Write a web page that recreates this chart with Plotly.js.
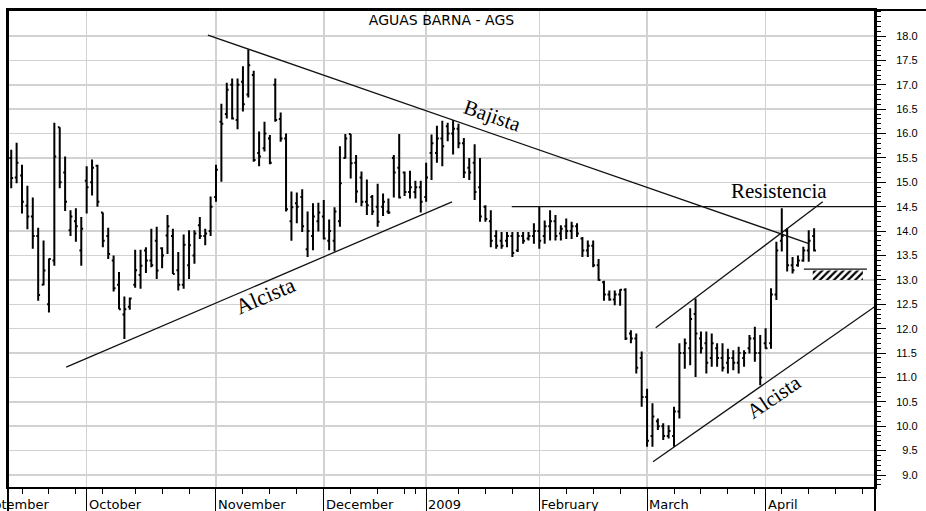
<!DOCTYPE html>
<html><head><meta charset="utf-8">
<script src="https://cdn.plot.ly/plotly-3.0.1.min.js"></script>
<style>html,body{margin:0;padding:0;background:#fff}#chart{width:926px;height:511px}</style>
</head><body><div id="chart"></div>
<script>
// Daily OHLC bars (trading-day order, Sept 2008 - Apr 2009)
const openP = [15.5,15.1,15.14,14.52,14.3,13.9,12.9,12.5,13.4,16.13,
15.2,14.02,14.2,13.6,15.03,15.0,15.34,14.38,13.9,13.4,
12.9,12.29,12.45,12.9,13.1,13.6,13.4,13.8,13.65,13.91,
13.9,13.2,12.9,13.3,13.5,14.12,13.9,14.0,14.7,16.24,
16.4,17.0,16.28,17.06,16.8,17.2,15.6,15.7,15.9,17.0,
16.3,15.9,14.2,14.57,14.7,13.63,13.9,14.2,14.3,13.8,
13.8,14.2,15.5,15.99,15.4,15.1,14.6,14.7,14.5,14.5,
14.4,15.5,15.3,15.2,14.8,14.8,14.9,14.7,15.6,15.6,
15.9,16.15,16.0,16.1,15.8,15.3,15.4,14.9,14.5,14.2,
13.9,13.8,13.8,13.9,13.6,13.9,13.85,13.9,14.0,13.9,
14.1,14.2,13.95,14.1,14.0,14.1,13.85,13.6,13.7,13.3,
12.95,12.7,12.6,12.7,12.8,11.9,11.8,11.4,10.6,9.8,
10.1,10.0,9.8,9.8,10.3,11.5,11.6,12.3,11.8,11.7,
11.4,11.6,11.4,11.3,11.4,11.3,11.4,11.6,11.8,11.5,
11.7,11.7,12.7,13.8,14.0,13.3,13.3,13.4,13.6,13.9];
const highP = [15.67,15.81,15.36,14.93,14.69,14.07,13.81,13.44,16.22,16.13,
15.53,14.43,14.47,14.29,15.33,15.47,15.36,14.38,14.07,13.50,
13.16,12.66,12.64,13.62,13.62,13.67,14.05,14.09,13.67,14.33,
14.05,13.57,13.93,14.02,14.02,14.29,14.05,14.71,15.36,16.61,
17.04,17.13,17.13,17.38,17.73,17.29,16.04,16.24,15.97,17.13,
16.43,16.0,14.81,14.79,14.86,14.40,14.57,14.58,14.64,14.24,
14.49,15.74,15.99,15.99,15.56,15.22,15.06,14.74,14.97,14.77,
14.67,15.56,15.99,15.22,15.24,15.03,15.03,15.40,15.98,16.16,
16.26,16.22,16.28,16.20,15.91,15.50,15.78,15.50,14.53,14.43,
14.02,13.98,13.98,13.98,13.98,13.98,13.98,14.16,14.50,14.22,
14.43,14.33,14.12,14.26,14.19,14.16,13.88,13.81,13.81,13.43,
12.98,12.78,12.78,12.81,12.83,11.97,11.90,11.53,10.77,10.47,
10.16,10.06,10.02,10.40,11.70,11.80,12.42,12.62,11.94,11.94,
11.90,11.70,11.70,11.59,11.56,11.63,11.56,11.87,12.04,11.87,
12.01,12.83,13.78,14.47,14.06,13.47,13.50,13.68,14.02,14.06];
const lowP = [14.88,14.98,14.36,14.04,13.64,12.57,12.89,12.33,13.29,14.88,
14.41,13.90,13.78,13.29,14.36,14.73,14.50,13.67,13.43,12.76,
12.40,11.79,12.39,12.84,12.82,13.14,13.26,13.02,13.24,13.53,
13.12,12.78,12.82,13.02,13.33,13.84,13.71,13.90,14.60,15.01,
16.31,16.29,16.09,16.45,16.74,15.42,15.33,15.63,15.37,16.24,
15.83,14.40,13.80,14.16,13.98,13.47,13.61,13.99,13.83,13.61,
13.58,14.09,15.49,15.08,14.58,14.51,14.33,14.33,14.09,14.31,
14.35,14.69,14.67,14.72,14.67,14.67,14.38,14.60,15.05,15.40,
15.33,15.84,15.57,15.70,15.09,15.05,14.64,14.19,14.19,13.67,
13.64,13.64,13.67,13.47,13.57,13.74,13.81,13.74,13.64,13.74,
13.81,13.81,13.81,13.84,13.84,13.88,13.47,13.47,13.26,12.98,
12.57,12.57,12.48,12.47,11.77,11.70,11.08,10.40,9.58,9.58,
9.92,9.72,9.75,9.58,10.16,11.18,11.25,11.01,11.49,11.08,
11.22,11.22,11.12,11.08,11.15,11.08,11.22,11.49,11.32,10.84,
11.59,11.59,12.59,13.58,13.17,13.13,13.27,13.37,13.37,13.58];
const closeP = [15.09,15.40,14.6,14.3,13.9,12.69,13.19,13.43,15.53,15.0,
14.6,14.3,14.1,14.05,14.9,15.3,14.6,13.8,13.53,12.83,
12.40,12.4,12.62,13.2,13.29,13.4,13.3,13.19,13.5,14.1,
13.12,12.9,13.72,13.71,13.95,13.9,13.95,14.5,15.26,16.2,
16.9,16.31,17.0,16.6,17.4,15.46,15.53,16.0,15.4,16.28,
15.9,14.45,14.49,14.5,14.1,14.0,14.3,14.38,13.85,14.0,
14.4,14.98,15.9,15.39,14.81,14.6,14.53,14.4,14.19,14.6,
14.38,15.2,14.69,14.8,14.9,14.9,14.6,15.1,15.8,15.9,
15.74,16.0,16.1,15.8,15.2,15.2,14.8,14.3,14.25,13.8,
13.7,13.7,13.9,13.55,13.9,13.8,13.9,14.0,13.8,14.1,
14.2,13.9,14.05,14.0,14.1,13.95,13.6,13.7,13.3,13.0,
12.7,12.6,12.7,12.8,11.8,11.8,11.2,10.6,9.7,10.2,
10.0,9.8,9.9,10.3,11.5,11.7,12.2,11.9,11.6,11.3,
11.7,11.4,11.2,11.4,11.3,11.5,11.5,11.8,11.5,11.0,
11.6,12.7,13.6,13.9,13.3,13.2,13.4,13.6,13.8,13.6];

// Calendar: first trading day of each month (bar index) and labels
const monthStarts = [14, 38, 58, 77, 98, 118, 140];
const monthLabels = ['October', 'November', 'December', '2009', 'February', 'March', 'April'];
const firstMonthLabel = 'September';
const weekTicks = [2, 7, 12, 17, 23, 28, 33, 43, 48, 53, 63, 68, 73, 75, 83, 88, 93, 103, 108, 113, 123, 128, 133, 138, 143, 148, 153, 158];

// Price axis ticks
const yTickVals = [9.0, 9.5, 10.0, 10.5, 11.0, 11.5, 12.0, 12.5, 13.0, 13.5, 14.0, 14.5, 15.0, 15.5, 16.0, 16.5, 17.0, 17.5, 18.0];
const yTickText = ['\u20079.0', '\u20079.5', '10.0', '10.5', '11.0', '11.5', '12.0', '12.5', '13.0', '13.5', '14.0', '14.5', '15.0', '15.5', '16.0', '16.5', '17.0', '17.5', '18.0'];

// Hand-drawn analysis lines (bar index, price)
const bajistaX = [36.5, 147.9], bajistaY = [18.02, 13.75];
const alcistaX = [10.2, 81.8], alcistaY = [11.21, 14.60];
const channelUpX = [119.6, 150.6], channelUpY = [12.02, 14.60];
const channelLowX = [119.1, 161.0], channelLowY = [9.27, 12.51];
const resistX = [92.9, 161.0], resistY = [14.5, 14.5];
const supportX = [147.1, 158.8], supportY = [13.22, 13.22];
const supportZoneX = [153.4], supportZoneW = [9.3], supportZoneBase = [13.0], supportZoneH = [0.19];

const barIndex = openP.map((_, i) => i);
const lineStyle = {color: '#111', width: 1.3};
function seg(x, y) {
  return {type: 'scatter', mode: 'lines', x: x, y: y, line: lineStyle, hoverinfo: 'skip', showlegend: false};
}

const traces = [
  {type: 'bar', x: supportZoneX, y: supportZoneH, base: supportZoneBase, width: supportZoneW,
   marker: {color: '#fff', line: {width: 0}, pattern: {shape: '/', size: 5, solidity: 0.45, fgcolor: '#000', bgcolor: '#fff'}},
   hoverinfo: 'skip', showlegend: false},
  {type: 'ohlc', x: barIndex, open: openP, high: highP, low: lowP, close: closeP,
   increasing: {line: {color: '#000', width: 2}}, decreasing: {line: {color: '#000', width: 2}},
   tickwidth: 0.35, hoverinfo: 'skip', showlegend: false},
  seg(bajistaX, bajistaY), seg(alcistaX, alcistaY), seg(channelUpX, channelUpY),
  seg(channelLowX, channelLowY), seg(resistX, resistY), seg(supportX, supportY)
];

const serif = {family: 'Liberation Serif, Times New Roman, serif', size: 20, color: '#000'};
const annotations = [
  {x: 89.4, y: 16.36, text: 'Bajista', textangle: 19, font: Object.assign({}, serif, {size: 21})},
  {x: 47.2, y: 12.68, text: 'Alcista', textangle: -23, font: Object.assign({}, serif, {size: 22})},
  {x: 142.4, y: 14.82, text: 'Resistencia', textangle: 0, font: Object.assign({}, serif, {size: 21})},
  {x: 141.5, y: 10.60, text: 'Alcista', textangle: -34, font: Object.assign({}, serif, {size: 21})}
].map(a => Object.assign({xref: 'x', yref: 'y', showarrow: false, xanchor: 'center', yanchor: 'middle'}, a));

const labelFont = {family: 'DejaVu Sans, sans-serif', size: 13, color: '#000'};
monthStarts.forEach((m, k) => {
  annotations.push({x: m, y: 0, xref: 'x', yref: 'paper', text: monthLabels[k], showarrow: false,
    xanchor: 'left', yanchor: 'middle', xshift: 0, yshift: -17, font: labelFont});
});
annotations.push({x: monthStarts[0], y: 0, xref: 'x', yref: 'paper', text: firstMonthLabel, showarrow: false,
  xanchor: 'right', yanchor: 'middle', xshift: -35, yshift: -17, font: labelFont});

const frame = {color: '#000', width: 2};
const layout = {
  width: 926, height: 511,
  margin: {l: 8, r: 51, t: 10, b: 24, pad: 0},
  paper_bgcolor: '#fff', plot_bgcolor: '#fff',
  showlegend: false,
  title: {text: 'AGUAS BARNA - AGS', font: {family: 'DejaVu Sans, sans-serif', size: 14, color: '#000'},
          x: 0.5, xref: 'paper', xanchor: 'center', y: 1 - 20 / 511, yref: 'container', yanchor: 'middle'},
  xaxis: {type: 'linear', range: [-0.6, 160.3], rangeslider: {visible: false},
          tickmode: 'array', tickvals: monthStarts, showticklabels: false,
          ticks: 'outside', ticklen: 25, tickwidth: 1, tickcolor: '#000',
          showgrid: true, gridcolor: '#d2d2d2', gridwidth: 1.5,
          showline: true, linecolor: '#000', linewidth: 2, mirror: true, zeroline: false,
          minor: {tickmode: 'array', tickvals: weekTicks, ticks: 'outside', ticklen: 5, tickwidth: 1, tickcolor: '#000', showgrid: false}},
  yaxis: {side: 'right', range: [8.754, 18.533], tickmode: 'array', tickvals: yTickVals, ticktext: yTickText,
          ticks: 'outside', ticklen: 9, tickwidth: 1, tickcolor: '#000', ticklabelstandoff: 8,
          tickfont: {family: 'Liberation Sans, Arial, sans-serif', size: 11, color: '#000'},
          showgrid: true, gridcolor: '#d2d2d2', gridwidth: 1.5,
          showline: true, linecolor: '#000', linewidth: 2, mirror: true, zeroline: false,
          minor: {dtick: 0.1, tick0: 0, ticks: 'outside', ticklen: 4, tickwidth: 1, tickcolor: '#000', showgrid: false}},
  shapes: [
    {type: 'line', xref: 'paper', yref: 'paper', x0: 0, x1: 0, y0: -0.06, y1: 1, line: frame},
    {type: 'line', xref: 'paper', yref: 'paper', x0: 1, x1: 1, y0: -0.06, y1: 1, line: frame},
    {type: 'line', xref: 'paper', yref: 'paper', x0: 0, x1: 1.07, y0: 1, y1: 1, line: frame}
  ],
  annotations: annotations
};

Plotly.newPlot('chart', traces, layout, {staticPlot: true, displayModeBar: false});
</script>
</body></html>
